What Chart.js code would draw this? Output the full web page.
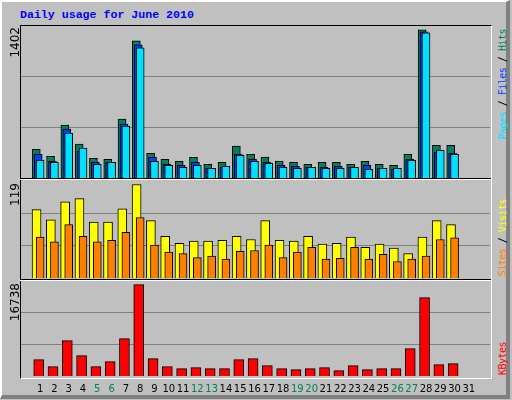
<!DOCTYPE html>
<html><head><meta charset="utf-8">
<script src="https://cdn.jsdelivr.net/npm/chart.js@4"></script>
<style>
html,body{margin:0;padding:0;}
body{width:512px;height:400px;position:relative;overflow:hidden;background:#c0c0c0;}
#outer{position:absolute;left:0;top:0;width:504px;height:393px;border:1px solid #000;border-top:2px solid #fff;border-left:2px solid #fff;border-right:4px solid #808080;border-bottom:4px solid #808080;box-sizing:content-box;}
#frame{position:absolute;left:20px;top:25px;width:470px;height:352px;border-left:1px solid #000;border-top:1px solid #000;border-right:1px solid #fff;border-bottom:1px solid #fff;}
.sep{position:absolute;left:20px;width:471px;height:1px;background:#000;}
.sepw{position:absolute;left:20px;width:471px;height:1px;background:#fff;}
canvas{position:absolute;}
.rot{position:absolute;transform:rotate(-90deg) translateX(-100%);transform-origin:top left;white-space:nowrap;line-height:1;}
.lab{font:12px "DejaVu Sans",sans-serif;color:#000;}
.leg{font:10px "DejaVu Sans Mono",monospace;letter-spacing:-0.5px;}
#title{position:absolute;left:20px;top:8px;font:bold 11.6px "Liberation Mono",monospace;color:#0000ff;}
</style></head><body>
<div id="outer"></div>
<div id="title">Daily usage for June 2010</div>
<div id="frame"></div>
<div class="sep" style="top:178px"></div><div class="sepw" style="top:179px"></div>
<div class="sep" style="top:279px"></div><div class="sepw" style="top:280px"></div>
<canvas id="c1" style="left:21px;top:26px;width:469px;height:152px"></canvas>
<canvas id="c2" style="left:21px;top:181px;width:469px;height:97px"></canvas>
<canvas id="c3" style="left:21px;top:281px;width:469px;height:119px"></canvas>
<div class="rot lab" style="left:8px;top:27px">1402</div>
<div class="rot lab" style="left:8px;top:183px">119</div>
<div class="rot lab" style="left:8px;top:283px">16738</div>
<div class="rot leg" style="left:497px;top:29px"><span style="color:#00e0ff">Pages</span> / <span style="color:#0040ff">Files</span> / <span style="color:#00805c">Hits</span></div>
<div class="rot leg" style="left:497px;top:199px"><span style="color:#ff8000">Sites</span> / <span style="color:#ffff00">Visits</span></div>
<div class="rot leg" style="left:497px;top:342px"><span style="color:#ff0000">KBytes</span></div>
<script>
const days = Array.from({length:31},(_,i)=>i+1);
const weekendDays = [5,6,12,13,19,20,26,27];
const hits   = [272,206,500,320,187,177,557,1297,234,177,158,196,130,149,301,225,199,161,149,130,149,149,130,158,130,121,225,1402,310,310,0];
const files  = [225,158,462,253,149,149,509,1259,196,130,121,149,92,102,225,177,149,121,111,102,102,111,102,121,92,83,177,1383,244,234,0];
const pages  = [168,149,424,282,130,149,491,1231,158,121,102,121,92,111,215,158,139,102,92,102,92,92,102,83,92,92,168,1373,262,225,0];
const visits = [87,74,97,101,71,71,88,119,73,53,44,47,47,48,53,49,73,48,47,53,43,44,52,39,43,38,31,52,73,68,0];
const sites  = [52,46,68,53,46,48,58,77,42,33,31,26,28,24,34,35,42,26,33,39,24,25,39,24,30,21,24,28,49,51,0];
const kbytes = [2994,1711,6477,3727,1711,2627,6843,16738,3177,1711,1344,1528,1344,1344,2994,3177,1894,1344,1161,1344,1528,978,1894,1161,1344,1344,5010,14359,2077,2261,0];

function pts(vals, off){ return days.map((d,i)=>({x:d+off,y:vals[i]})); }
function ds(vals, off, color, w, order){
  return {data:pts(vals,off),backgroundColor:color,borderColor:'#000',borderWidth:1,borderSkipped:'bottom',barThickness:w,grouped:false,order:order};
}
function make(id, datasets, ymax, showX){
  return new Chart(document.getElementById(id),{
    type:'bar',
    data:{datasets},
    options:{
      responsive:false,animation:false,devicePixelRatio:1,
      layout:{padding:0},
      plugins:{legend:{display:false},tooltip:{enabled:false}},
      scales:{
        x:{type:'linear',min:0.19,max:31.95,display:showX,
           grid:{display:false,drawTicks:false},border:{display:false},
           afterBuildTicks:s=>{s.ticks=days.map(v=>({value:v}));},
           afterFit:s=>{s.height=showX?24:0;},
           ticks:{padding:7,autoSkip:false,maxRotation:0,font:{family:'DejaVu Sans',size:10},
             color:c=>weekendDays.includes(c.tick.value)?'#00805c':'#000'}},
        y:{min:0,max:ymax,display:true,
           afterFit:s=>{s.width=0;},
           afterBuildTicks:s=>{s.ticks=[{value:ymax/3},{value:2*ymax/3}];},
           ticks:{display:false},border:{display:false},
           grid:{color:'#808080',lineWidth:1,drawTicks:false}}
      }
    }
  });
}
const cv=[['c1',469,152],['c2',469,97],['c3',469,119]];
cv.forEach(([id,w,h])=>{const c=document.getElementById(id);c.width=w;c.height=h;});
make('c1',[ds(hits,-0.27,'#00805c',8,3),ds(files,-0.135,'#0040ff',8,2),ds(pages,0,'#00e0ff',8,1)],1438,false);
make('c2',[ds(visits,-0.25,'#ffff00',9,2),ds(sites,0,'#ff8000',8,1)],123.4,false);
make('c3',[ds(kbytes,-0.1,'#ff0000',10,1)],17413,true);
</script>
</body></html>
